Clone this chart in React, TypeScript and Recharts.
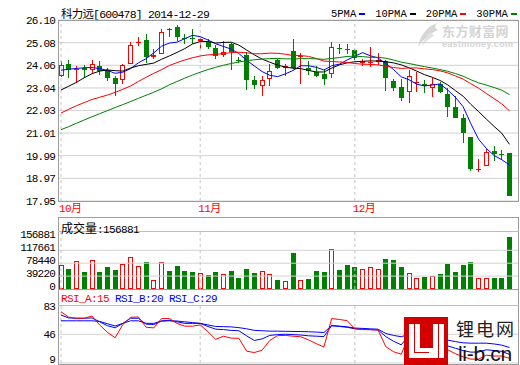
import React from 'react';
import {
  Bar,
  CartesianGrid,
  ComposedChart,
  Line,
  ReferenceLine,
  XAxis,
  YAxis,
} from 'recharts';

const RED = '#ff0000';
const GREEN = '#008000';
const BLUE = '#0000ff';
const GRID = '#d2d2d2';
const FRAME = '#9c9c9c';
const DASH = '#c4c4c4';
const MONO = "'Liberation Mono', 'Noto Sans CJK SC', monospace";

const stockTitle = '科力远[600478] 2014-12-29';

// first trading day of each month (index into the series)
const monthStarts = [0, 18, 38];
const monthLabels = ['10月', '11月', '12月'];

const priceTicks = [17.95, 18.97, 19.99, 21.01, 22.03, 23.04, 24.06, 25.08, 26.1];
const volTicks = [0, 39220, 78440, 117661, 156881];
const rsiTicks = [9, 46, 83];

const maKeys = ['ma5', 'ma10', 'ma20', 'ma30'];
const maNames = ['5PMA', '10PMA', '20PMA', '30PMA'];
const maColors = [BLUE, '#000000', RED, GREEN];

const open = [23.58, 24.14, 23.84, 23.92, 23.84, 24.03, 23.84, 23.47, 23.39, 24.14, 25.1, 25.2, 24.43, 24.55, 25.7, 25.77, 25.3, 25.3, 25.15, 25.12, 24.86, 24.51, 25.02, 24.3, 24.51, 23.39, 23.11, 23.43, 24.3, 23.96, 24.7, 24.44, 23.96, 23.74, 23.69, 23.69, 24.83, 24.8, 24.75, 24.18, 24.18, 24.2, 24.26, 23.36, 23.09, 22.84, 23.27, 23.2, 23.06, 23.24, 22.79, 22.17, 21.69, 20.85, 19.36, 19.52, 20.19, 20.08, 20.1];
const high = [24.26, 24.31, 24.05, 24.06, 24.28, 24.24, 23.93, 23.58, 24.1, 25.1, 25.33, 25.48, 24.78, 25.71, 25.75, 25.87, 25.45, 25.68, 25.3, 25.23, 24.97, 25.15, 25.05, 24.45, 24.65, 23.58, 23.58, 24.11, 24.36, 24.11, 25.23, 24.63, 24.26, 24.03, 23.84, 25.11, 25.04, 25.0, 24.8, 24.35, 24.87, 24.6, 24.3, 23.43, 23.43, 23.84, 23.78, 23.4, 23.47, 23.3, 23.02, 22.67, 21.87, 20.85, 19.85, 20.3, 20.42, 20.25, 20.1];
const low = [23.55, 23.5, 23.26, 23.48, 23.7, 23.61, 23.36, 22.66, 23.21, 24.12, 24.93, 24.18, 24.36, 24.55, 25.35, 25.14, 25.0, 25.0, 24.8, 24.8, 24.33, 24.44, 23.86, 24.15, 22.95, 22.99, 22.69, 23.13, 23.88, 23.58, 23.88, 23.24, 23.61, 23.55, 23.18, 23.47, 24.59, 24.59, 24.3, 24.05, 24.0, 24.08, 22.91, 22.91, 22.46, 22.35, 22.84, 22.8, 22.64, 22.8, 21.75, 21.67, 20.56, 19.32, 19.25, 19.52, 19.77, 19.8, 18.17];
const close = [24.08, 23.87, 23.88, 23.83, 24.14, 23.82, 23.49, 23.2, 24.09, 24.96, 25.12, 24.43, 24.52, 25.55, 25.66, 25.33, 25.26, 25.25, 25.25, 24.9, 24.48, 24.66, 24.66, 24.27, 23.4, 23.18, 23.39, 23.81, 23.96, 24.03, 23.96, 24.46, 23.81, 23.58, 23.43, 24.9, 24.81, 24.78, 24.41, 24.24, 24.22, 24.3, 23.51, 23.06, 22.61, 23.56, 23.31, 23.13, 23.24, 22.88, 22.17, 21.69, 21.0, 19.4, 19.38, 20.15, 20.07, 20.05, 18.19];

const volume = [73700, 60800, 86200, 53000, 88400, 53000, 66300, 58600, 75100, 98300, 70700, 80700, 28700, 82900, 55200, 70700, 55200, 53000, 48600, 43100, 51900, 45300, 55200, 34300, 61900, 49700, 55200, 46400, 27600, 23200, 108300, 26500, 30900, 55200, 53000, 122700, 56400, 71800, 66300, 61900, 67400, 61900, 90600, 87300, 66300, 48600, 33200, 36500, 38700, 46400, 77400, 53000, 71800, 80700, 34300, 34300, 34300, 32000, 156881];

const ma5 = [23.84, 23.88, 23.92, 23.95, 23.96, 23.91, 23.83, 23.7, 23.75, 23.91, 24.17, 24.36, 24.62, 24.92, 25.06, 25.1, 25.26, 25.41, 25.35, 25.2, 25.03, 24.91, 24.79, 24.59, 24.29, 24.03, 23.78, 23.61, 23.55, 23.67, 23.83, 24.04, 24.04, 23.97, 23.85, 24.04, 24.11, 24.3, 24.47, 24.63, 24.49, 24.39, 24.14, 23.87, 23.54, 23.41, 23.21, 23.13, 23.17, 23.22, 22.95, 22.62, 22.2, 21.43, 20.73, 20.32, 20.0, 19.81, 19.57];
const ma10 = [22.95, 23.12, 23.29, 23.5, 23.68, 23.8, 23.85, 23.82, 23.8, 23.94, 24.04, 24.1, 24.16, 24.33, 24.48, 24.64, 24.81, 25.02, 25.13, 25.13, 25.06, 25.09, 25.1, 24.97, 24.75, 24.53, 24.34, 24.2, 24.07, 23.98, 23.93, 23.91, 23.83, 23.76, 23.76, 23.93, 24.08, 24.17, 24.22, 24.24, 24.26, 24.25, 24.22, 24.17, 24.08, 23.95, 23.8, 23.64, 23.52, 23.38, 23.18, 22.92, 22.67, 22.3, 21.98, 21.64, 21.31, 21.0, 20.5];
const ma20 = [21.91, 22.08, 22.24, 22.38, 22.52, 22.62, 22.72, 22.84, 22.98, 23.13, 23.33, 23.52, 23.7, 23.86, 24.05, 24.18, 24.3, 24.4, 24.48, 24.53, 24.55, 24.59, 24.63, 24.65, 24.62, 24.58, 24.58, 24.61, 24.6, 24.56, 24.5, 24.5, 24.46, 24.37, 24.25, 24.23, 24.21, 24.19, 24.14, 24.11, 24.1, 24.08, 24.02, 23.96, 23.92, 23.94, 23.94, 23.9, 23.87, 23.81, 23.72, 23.58, 23.44, 23.23, 23.03, 22.79, 22.56, 22.32, 22.01];
const ma30 = [21.16, 21.3, 21.45, 21.6, 21.74, 21.88, 22.02, 22.16, 22.29, 22.43, 22.57, 22.71, 22.85, 23.0, 23.18, 23.33, 23.48, 23.62, 23.75, 23.87, 23.97, 24.06, 24.14, 24.21, 24.27, 24.31, 24.34, 24.36, 24.37, 24.35, 24.35, 24.36, 24.36, 24.35, 24.33, 24.37, 24.41, 24.46, 24.47, 24.45, 24.42, 24.42, 24.38, 24.3, 24.2, 24.14, 24.07, 24.0, 23.94, 23.87, 23.79, 23.69, 23.57, 23.41, 23.27, 23.17, 23.06, 22.94, 22.74];

const rsiA = [74.9, 68, 66.6, 66.6, 69.4, 58, 48.5, 41.5, 58.5, 67.8, 68.2, 55, 54.2, 66.2, 66.2, 60, 56.4, 56.4, 58, 49.3, 39.5, 43.5, 41, 40.8, 24.3, 22.4, 25.5, 38, 44.2, 44.5, 43.5, 42.8, 38.8, 34, 29.6, 66.2, 65, 63.5, 53, 52, 51.8, 51.5, 30, 23.5, 20.3, 44, 43, 38, 39, 33, 26, 21, 17, 14, 14, 19, 18, 18, 15];
const rsiB = [70.7, 67, 66.6, 66.6, 67, 62, 57, 54.3, 60, 66.6, 66.6, 59, 58.5, 63, 64, 62, 60, 60, 60, 56, 52.5, 52, 51, 50.5, 44, 38, 40, 44.5, 45.5, 46, 45.5, 45, 44, 43.5, 43, 57, 56, 55, 53, 52.5, 52, 51.5, 43, 37, 32.4, 44.8, 43, 40, 39, 35, 31, 28, 25, 23, 23, 26, 25, 24, 20];
const rsiC = [63.3, 63.3, 63.3, 63.3, 63.3, 62.5, 59.5, 56.6, 60, 63.3, 63.3, 60, 60, 63, 63.3, 63, 62, 61, 60, 58, 56, 55.8, 55.5, 54.5, 53, 51, 50.5, 50, 50, 49.8, 49.6, 49.5, 49.2, 48.8, 48.2, 57, 56.5, 55.5, 54, 53.5, 53, 52.5, 47, 44.5, 42.8, 46, 45, 44, 43.5, 41, 38.5, 36.5, 35, 34.5, 34.5, 34.5, 33.5, 32, 29];

const rows = close.map((c, i) => ({
  idx: i,
  open: open[i],
  high: high[i],
  low: low[i],
  close: c,
  volume: volume[i],
  ma5: ma5[i],
  ma10: ma10[i],
  ma20: ma20[i],
  ma30: ma30[i],
  rsiA: rsiA[i],
  rsiB: rsiB[i],
  rsiC: rsiC[i],
}));

const last = rows.length - 1;

// index axis shared by all three panels so the bars line up
const X_DOMAIN: [number, number] = [-0.388, 59.097];
const VOL_MAX = 173300;
const BAR_W = 5;

function Candle(props: any) {
  const { x, y, width, height, payload } = props;
  if (!payload) return null;
  const { open: o, close: c, high: h, low: l } = payload;
  const top = Math.min(y, y + height);
  const span = Math.abs(height);
  const py = (v: number) => top + ((h - v) / (h - l || 1)) * span;
  const cx = Math.round(x + width / 2);
  const up = c >= o;
  const color = up ? RED : GREEN;
  const bTop = Math.round(py(Math.max(o, c)));
  const bBot = Math.round(py(Math.min(o, c)));
  const yh = Math.round(top);
  const yl = Math.round(top + span);
  const wx = cx + 0.5;
  const flat = bBot - bTop < 2;
  return (
    <g shapeRendering="crispEdges">
      {up && !flat ? (
        <>
          <line x1={wx} x2={wx} y1={yh} y2={bTop} stroke={color} />
          <line x1={wx} x2={wx} y1={bBot} y2={yl} stroke={color} />
          <rect x={cx - 1.5} y={bTop + 0.5} width={4} height={bBot - bTop - 1} fill="#fff" stroke={color} />
        </>
      ) : (
        <>
          <line x1={wx} x2={wx} y1={yh} y2={yl} stroke={color} />
          <rect x={cx - 2} y={bTop} width={5} height={flat ? 1 : bBot - bTop} fill={color} />
        </>
      )}
    </g>
  );
}

function VolumeBar(props: any) {
  const { x, y, width, height, payload } = props;
  if (!payload) return null;
  const up = payload.close >= payload.open;
  const cx = Math.round(x + width / 2);
  const t = Math.round(Math.min(y, y + height));
  const b = Math.round(Math.max(y, y + height));
  if (up) {
    return (
      <rect x={cx - 1.5} y={t + 0.5} width={4} height={b - t - 1} fill="#fff" stroke={RED} shapeRendering="crispEdges" />
    );
  }
  return <rect x={cx - 2} y={t} width={5} height={b - t} fill={GREEN} shapeRendering="crispEdges" />;
}

function AxisTick(props: any) {
  const { x, y, payload, fmt, maxY, shift = 0 } = props;
  const base = y + shift;
  const ty = maxY == null ? base : Math.min(base, maxY);
  const label = fmt ? fmt(payload.value) : String(payload.value);
  return (
    <text x={x - 1} y={ty + 4} textAnchor="end" fontSize={11} fontFamily={MONO} letterSpacing={-0.8} fill="#000">
      {label}
    </text>
  );
}

function MonthTick(props: any) {
  const { x, y, payload } = props;
  const label = monthLabels[monthStarts.indexOf(payload.value)];
  return (
    <text x={x - 2} y={y + 11} fontSize={11} fontFamily={MONO} letterSpacing={-0.6} fill={RED}>
      {label}
    </text>
  );
}

const monthLines = () =>
  monthStarts.map((m) => (
    <ReferenceLine key={`m${m}`} x={m} stroke={DASH} strokeDasharray="3 3" />
  ));

const frame = (left: number, top: number, width: number, height: number) => ({
  position: 'absolute' as const,
  left,
  top,
  width,
  height,
  boxSizing: 'border-box' as const,
  border: `1px solid ${FRAME}`,
  pointerEvents: 'none' as const,
});

export default function App() {
  return (
    <div style={{ position: 'absolute', left: 0, top: 0, width: 520, height: 365, background: '#fff', overflow: 'hidden' }}>
      <div style={{ position: 'absolute', left: 61, top: 5, fontFamily: MONO, fontSize: 11.5, letterSpacing: -0.8, color: '#000', whiteSpace: 'pre' }}>
        {stockTitle}
      </div>

      {/* moving-average key */}
      <div
        style={{
          position: 'absolute',
          left: 331,
          top: 8,
          display: 'flex',
          fontFamily: MONO,
          fontSize: 10.5,
          lineHeight: '12px',
          color: '#000',
          whiteSpace: 'nowrap',
        }}
      >
        {maNames.map((name, i) => (
          <span key={name} style={{ display: 'flex', alignItems: 'center', marginLeft: i ? 10 : 0 }}>
            {name}
            <span style={{ display: 'inline-block', width: 6, height: 2, background: maColors[i], marginLeft: 3 }} />
          </span>
        ))}
      </div>

      {/* eastmoney mark */}
      <svg style={{ position: 'absolute', left: 414, top: 16 }} width={106} height={40}>
        <g transform="translate(0 6)">
          <path d="M23 1 C14 4 6 13 4 25 C9 18 15 12 24 8 C20 6 21 3 23 1 Z" fill="#d6d6d6" />
          <path d="M17 10 C12 14 9 19 8 24 C12 20 15 16 20 14 Z" fill="#e2e2e2" />
          <text x={28} y={14} fontSize={13} fontWeight={700} fontFamily="'Noto Sans CJK SC'" fill="#d4d4d4" letterSpacing={0.4}>
            东方财富网
          </text>
          <text x={28} y={25} fontSize={9} fontWeight={700} fontFamily="'Liberation Sans'" fill="#d4d4d4" letterSpacing={0.3}>
            eastmoney.com
          </text>
        </g>
      </svg>

      <div style={{ position: 'absolute', left: 0, top: 0 }}>
        <ComposedChart width={520} height={216} data={rows} margin={{ top: 20, right: 2, bottom: 0, left: 0 }}>
          <CartesianGrid vertical={false} stroke={GRID} />
          <XAxis
            type="number"
            dataKey="idx"
            domain={X_DOMAIN}
            allowDataOverflow
            ticks={monthStarts}
            interval={0}
            height={15}
            axisLine={false}
            tickLine={false}
            tickSize={0}
            tickMargin={0}
            tick={<MonthTick />}
          />
          <YAxis
            domain={[17.95, 26.1]}
            allowDataOverflow
            ticks={priceTicks}
            interval={0}
            width={58}
            axisLine={false}
            tickLine={false}
            tickSize={0}
            tick={<AxisTick fmt={(v: number) => v.toFixed(2)} />}
          />
          {monthLines()}
          <Bar dataKey={(d: any) => [d.low, d.high]} shape={<Candle />} barSize={BAR_W} isAnimationActive={false} />
          {maKeys.map((k, i) => (
            <Line
              key={k}
              dataKey={k}
              name={maNames[i]}
              stroke={maColors[i]}
              strokeWidth={1}
              dot={false}
              activeDot={false}
              isAnimationActive={false}
            />
          ))}
        </ComposedChart>
      </div>
      <div style={frame(58, 20, 461, 182)} />

      {/* volume panel */}
      <div style={{ position: 'absolute', left: 0, top: 217 }}>
        <ComposedChart width={520} height={76} data={rows} margin={{ top: 15, right: 2, bottom: 4, left: 0 }}>
          <XAxis type="number" dataKey="idx" domain={X_DOMAIN} allowDataOverflow hide />
          <YAxis
            domain={[0, VOL_MAX]}
            allowDataOverflow
            ticks={volTicks}
            interval={0}
            width={58}
            axisLine={false}
            tickLine={false}
            tickSize={0}
            tick={<AxisTick shift={-3} />}
          />
          {volTicks.slice(1, 4).map((v) => (
            <ReferenceLine key={v} y={v} stroke={GRID} />
          ))}
          {monthLines()}
          <Bar dataKey="volume" shape={<VolumeBar />} barSize={BAR_W} isAnimationActive={false} />
        </ComposedChart>
      </div>
      <div style={frame(58, 217, 461, 73)} />
      <div style={{ position: 'absolute', left: 58, top: 231, width: 461, height: 1, background: '#bdbdbd' }} />
      <div style={{ position: 'absolute', left: 61, top: 219, fontFamily: MONO, fontSize: 11, letterSpacing: -0.6, color: '#000', whiteSpace: 'pre' }}>
        <span style={{ fontSize: 12, letterSpacing: 0 }}>成交量</span>:{rows[last].volume}
      </div>

      {/* RSI panel */}
      <div style={{ position: 'absolute', left: 0, top: 289 }}>
        <ComposedChart width={520} height={76} data={rows} margin={{ top: 16.5, right: 2, bottom: 2, left: 0 }}>
          <CartesianGrid vertical={false} stroke={GRID} />
          <XAxis type="number" dataKey="idx" domain={X_DOMAIN} allowDataOverflow hide />
          <YAxis
            domain={[9, 83]}
            allowDataOverflow
            ticks={rsiTicks}
            interval={0}
            width={58}
            axisLine={false}
            tickLine={false}
            tickSize={0}
            tick={<AxisTick maxY={70} />}
          />
          {monthLines()}
          <Line dataKey="rsiC" stroke={BLUE} strokeWidth={1} dot={false} activeDot={false} isAnimationActive={false} />
          <Line dataKey="rsiB" stroke={BLUE} strokeWidth={1} dot={false} activeDot={false} isAnimationActive={false} />
          <Line dataKey="rsiA" stroke={RED} strokeWidth={1} dot={false} activeDot={false} isAnimationActive={false} />
        </ComposedChart>
      </div>
      <div style={frame(58, 289, 461, 76)} />
      <div style={{ position: 'absolute', left: 58, top: 305, width: 461, height: 1, background: '#bdbdbd' }} />
      <div style={{ position: 'absolute', left: 61, top: 293, fontFamily: MONO, fontSize: 11, letterSpacing: -0.6, whiteSpace: 'pre' }}>
        <span style={{ color: RED }}>RSI_A:{rows[last].rsiA}</span>
        <span style={{ color: BLUE }}> RSI_B:{rows[last].rsiB}</span>
        <span style={{ color: BLUE }}> RSI_C:{rows[last].rsiC}</span>
      </div>

      {/* li-b.cn mark */}
      <svg style={{ position: 'absolute', left: 404, top: 311 }} width={116} height={54} overflow="visible">
        <g transform="translate(0 6)">
          <rect x={0} y={0} width={44} height={48} fill="#d40000" />
          <rect x={5} y={7} width={11} height={34} fill="#fff" />
          <rect x={5} y={31} width={24} height={10} fill="#fff" />
          <rect x={10} y={7} width={1} height={29} fill="#d40000" />
          <rect x={10} y={35} width={15} height={1} fill="#d40000" />
          <rect x={29} y={7} width={11} height={34} fill="#fff" />
          <rect x={34} y={7} width={1} height={34} fill="#d40000" />
          <text x={52} y={19} fontSize={18} fontFamily="'Noto Sans CJK SC'" fill="#222" letterSpacing={2}>
            锂电网
          </text>
          <text x={54} y={44} fontSize={21} fontFamily="'Liberation Sans'" fill="#111" letterSpacing={-0.3}>
            li-b.cn
          </text>
        </g>
      </svg>
    </div>
  );
}
